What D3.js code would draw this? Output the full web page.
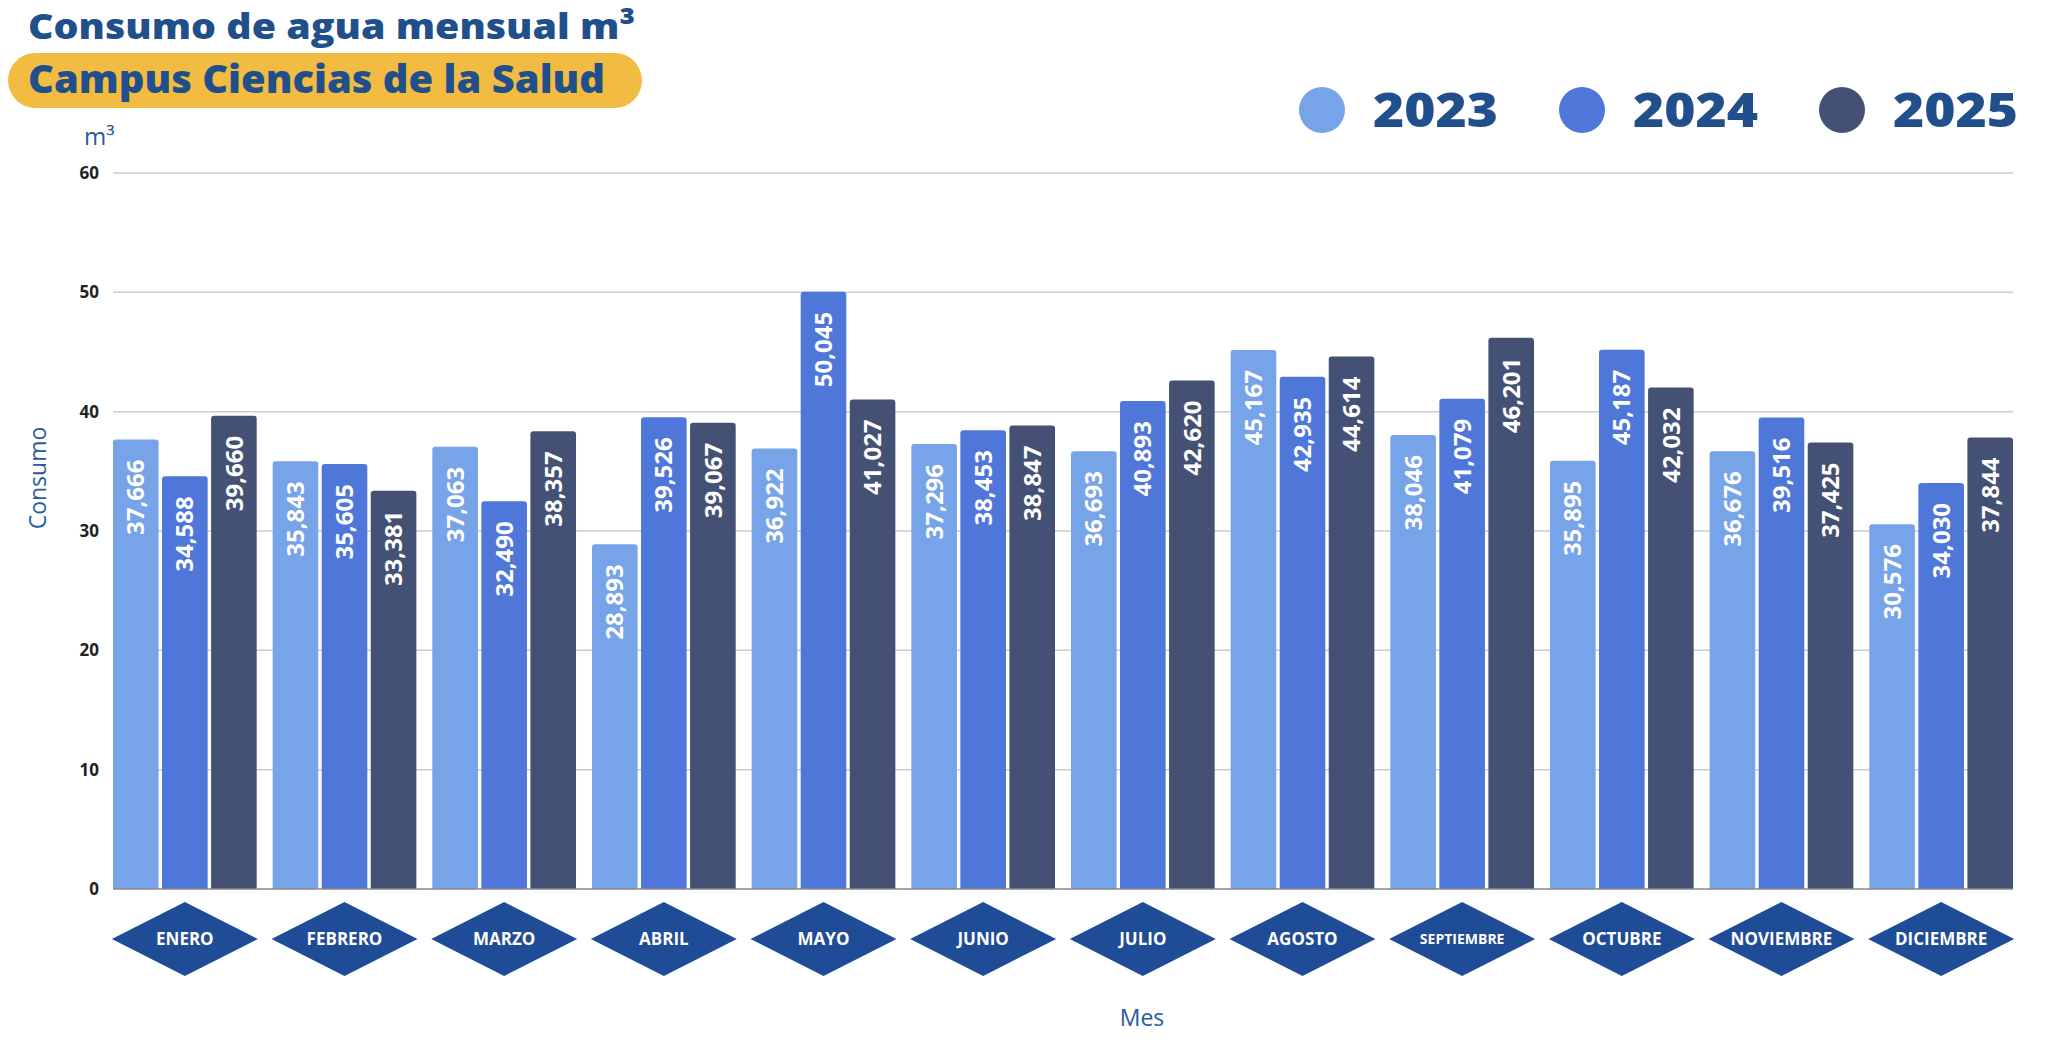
<!DOCTYPE html>
<html>
<head>
<meta charset="utf-8">
<script src="https://cdn.jsdelivr.net/npm/d3@7"></script>
<style>
  html, body { margin: 0; padding: 0; background: #fff; }
  svg { display: block; }
</style>
</head>
<body>
<svg id="chart" width="2066" height="1054"></svg>
<script>
const months = ["ENERO","FEBRERO","MARZO","ABRIL","MAYO","JUNIO","JULIO","AGOSTO","SEPTIEMBRE","OCTUBRE","NOVIEMBRE","DICIEMBRE"];
const years = ["2023","2024","2025"];
const values2023 = [37666,35843,37063,28893,36922,37296,36693,45167,38046,35895,36676,30576];
const values2024 = [34588,35605,32490,39526,50045,38453,40893,42935,41079,45187,39516,34030];
const values2025 = [39660,33381,38357,39067,41027,38847,42620,44614,46201,42032,37425,37844];
const yTicks = [0,10,20,30,40,50,60];
const seriesColors = ["#77a3e9","#4f76d9","#445174"];

const title = "Consumo de agua mensual m³";
const subtitle = "Campus Ciencias de la Salud";

const series = [values2023, values2024, values2025];

const svg = d3.select("#chart");
const W = 2066, H = 1054;
const margin = {left: 113, right: W - 2013, top: 173, bottom: H - 889};

const x0 = d3.scaleBand().domain(months).range([margin.left, 2013]).paddingInner(0.1).paddingOuter(0);
const x1 = d3.scaleBand().domain(years).range([0, x0.bandwidth()]).paddingInner(0.07);
const y = d3.scaleLinear().domain([0, 60]).range([889, 173]);

const headFont = "'Open Sans', Lato, sans-serif";
const bodyFont = "'Open Sans', Lato, sans-serif";

// Title
svg.append("text").attr("x", 28).attr("y", 39)
  .attr("font-family", headFont).attr("font-weight", 800).attr("font-size", 36)
  .attr("textLength", 607).attr("lengthAdjust", "spacingAndGlyphs")
  .attr("fill", "#214f8c").text(title);

svg.append("rect").attr("x", 8).attr("y", 53).attr("width", 634).attr("height", 55)
  .attr("rx", 27.5).attr("fill", "#f2bb41");
svg.append("text").attr("x", 28).attr("y", 93)
  .attr("font-family", headFont).attr("font-weight", 800).attr("font-size", 39)
  .attr("textLength", 577).attr("lengthAdjust", "spacingAndGlyphs")
  .attr("fill", "#214f8c").text(subtitle);

// unit label
svg.append("text").attr("x", 84).attr("y", 145)
  .attr("font-family", bodyFont).attr("font-weight", 400).attr("font-size", 24)
  .attr("fill", "#2a5aa0").text("m³");

// Legend
const legend = svg.append("g");
years.forEach((yr, i) => {
  const cx = 1322 + i * 260;
  legend.append("circle").attr("cx", cx).attr("cy", 110).attr("r", 23).attr("fill", seriesColors[i]);
  legend.append("text").attr("x", cx + 51).attr("y", 127)
    .attr("font-family", headFont).attr("font-weight", 800).attr("font-size", 48)
    .attr("textLength", 125).attr("lengthAdjust", "spacingAndGlyphs")
    .attr("fill", "#214f8c").text(yr);
});

// Gridlines + y ticks
const yAxis = svg.append("g");
yTicks.forEach(t => {
  if (t > 0) {
    yAxis.append("line").attr("x1", margin.left).attr("x2", 2013)
      .attr("y1", y(t)).attr("y2", y(t)).attr("stroke", "#cccccc").attr("stroke-width", 1.5);
  }
  yAxis.append("text").attr("x", 99).attr("y", y(t)).attr("dy", "0.36em")
    .attr("text-anchor", "end").attr("font-family", bodyFont).attr("font-weight", 700)
    .attr("font-size", 17).attr("fill", "#222").text(t);
});

// Y title
svg.append("text").attr("transform", "translate(46,478) rotate(-90)")
  .attr("text-anchor", "middle").attr("font-family", bodyFont).attr("font-weight", 400)
  .attr("font-size", 23).attr("fill", "#2a5aa0").text("Consumo");

// Bars
const groups = svg.append("g").selectAll("g").data(months).join("g")
  .attr("transform", d => `translate(${x0(d)},0)`);

groups.each(function(m, mi) {
  const g = d3.select(this);
  years.forEach((yr, si) => {
    const v = series[si][mi];
    const bx = x1(yr), bw = x1.bandwidth();
    const top = y(v / 1000);
    g.append("path")
      .attr("d", `M${bx},${y(0)} V${top + 3} Q${bx},${top} ${bx + 3},${top} H${bx + bw - 3} Q${bx + bw},${top} ${bx + bw},${top + 3} V${y(0)} Z`)
      .attr("fill", seriesColors[si]);
    g.append("text")
      .attr("transform", `translate(${bx + bw / 2},${top + 20}) rotate(-90)`)
      .attr("text-anchor", "end").attr("dy", "0.36em")
      .attr("font-family", bodyFont).attr("font-weight", 700).attr("font-size", 24)
      .attr("fill", "#ffffff").text(d3.format(",")(v));
  });
});

// baseline
svg.append("line").attr("x1", margin.left).attr("x2", 2013).attr("y1", y(0)).attr("y2", y(0))
  .attr("stroke", "#888").attr("stroke-width", 1.5);

// Month diamonds
const dg = svg.append("g").selectAll("g").data(months).join("g")
  .attr("transform", d => `translate(${x0(d) + x0.bandwidth() / 2},939)`);
dg.append("path").attr("d", "M-73,0 L0,-37 L73,0 L0,37 Z").attr("fill", "#1f4c97");
dg.append("text").attr("text-anchor", "middle").attr("dy", "0.36em")
  .attr("font-family", bodyFont).attr("font-weight", 700)
  .attr("font-size", d => d === "SEPTIEMBRE" ? 14 : 17)
  .attr("fill", "#fff").text(d => d);

// X title
svg.append("text").attr("x", 1142).attr("y", 1026).attr("text-anchor", "middle")
  .attr("font-family", bodyFont).attr("font-weight", 400).attr("font-size", 23)
  .attr("fill", "#2a5aa0").text("Mes");
</script>
</body>
</html>
